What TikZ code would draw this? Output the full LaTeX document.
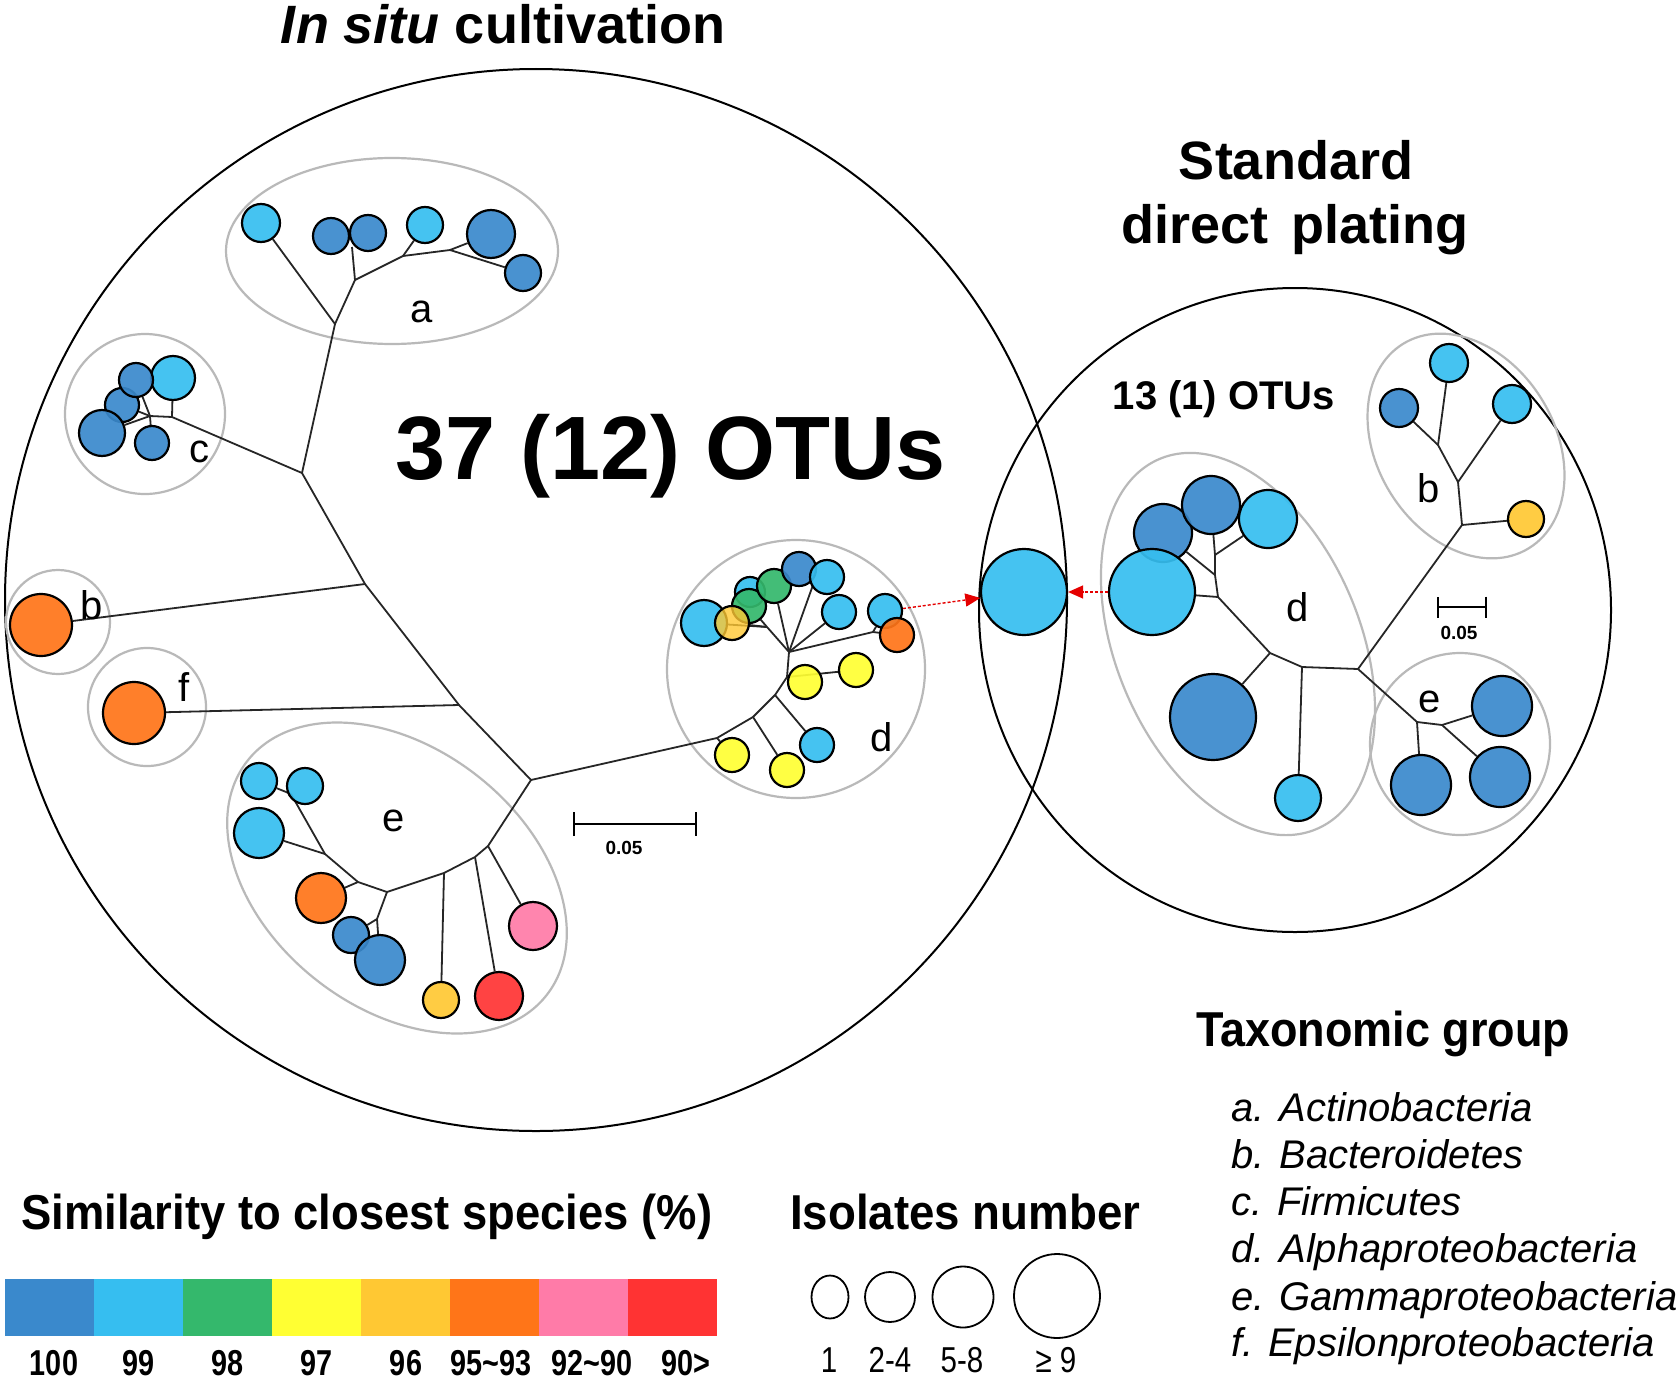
\documentclass[tikz,border=0pt]{standalone}
\usepackage{fontspec}
\setmainfont{Liberation Sans}
\usepackage{graphicx}
\usetikzlibrary{arrows.meta,shapes.geometric}
\pgfdeclarelayer{bg}
\pgfsetlayers{bg,main}
\definecolor{cA}{RGB}{58,137,204}
\definecolor{cB}{RGB}{54,190,240}
\definecolor{cC}{RGB}{52,184,108}
\definecolor{cD}{RGB}{255,255,51}
\definecolor{cE}{RGB}{255,200,51}
\definecolor{cF}{RGB}{255,117,24}
\definecolor{cG}{RGB}{255,123,168}
\definecolor{cH}{RGB}{255,51,51}
\definecolor{grp}{RGB}{185,185,185}
\tikzset{
 otu/.style={circle, draw=black, line width=2.2pt, inner sep=0pt, fill opacity=0.92},
 branch/.style={draw=black!85, line width=1.8pt},
 group/.style={draw=grp, line width=2.2pt},
 bigring/.style={draw=black, line width=2pt},
 lbl/.style={inner sep=0pt, font=\fontsize{40}{40}\selectfont},
 redarrow/.style={draw=red!90!black, line width=1.4pt, densely dashed, -{Triangle[length=15pt,width=13pt]}},
 sbar/.style={line width=2.4pt},
 title/.style={inner sep=0pt, anchor=base, font=\fontsize{54}{54}\selectfont\bfseries},
 head/.style={inner sep=0pt, anchor=base west, font=\fontsize{49}{49}\selectfont\bfseries},
 taxon/.style={inner sep=0pt, anchor=base west, font=\fontsize{40}{40}\selectfont\itshape},
 barlab/.style={inner sep=0pt, anchor=base, font=\fontsize{36}{36}\selectfont\bfseries},
 sizelab/.style={inner sep=0pt, anchor=base, font=\fontsize{36}{36}\selectfont},
 scalelab/.style={inner sep=0pt, font=\fontsize{19}{19}\selectfont\bfseries},
 sizering/.style={draw=black, ellipse, line width=1.8pt, inner sep=0pt},
}
\newcommand\otuc[4]{\node[otu, fill=#4, minimum size=#3pt] (#1) at (#2) {};}
\begin{document}
\begin{tikzpicture}[x=1pt,y=-1pt]
\useasboundingbox (0,0) rectangle (1678,1381);
\begin{pgfonlayer}{bg}
\fill[white] (0,0) rectangle (1678,1381);
\end{pgfonlayer}

% ---------- titles ----------
\node[title] (t1) at (503,44) {\textit{In situ} cultivation};
\node[title] (t2) at (1296,179) {Standard};
\node[title] (t3) at (1295,243) {direct\hspace{0.15em} plating};
\node[inner sep=0pt, anchor=base, font=\fontsize{90}{90}\selectfont\bfseries] (otuL) at (671,479) {37 (12) OTUs};
\node[inner sep=0pt, anchor=base, font=\fontsize{40}{40}\selectfont\bfseries] (otuR) at (1224,409) {13 (1) OTUs};

% ---------- junction coordinates ----------
\coordinate (M1) at (302,473);
\coordinate (M2) at (365,584);
\coordinate (M3) at (459,705);
\coordinate (M4) at (531,780);
\coordinate (Aroot) at (335,324);
\coordinate (Aj1) at (355,280);
\coordinate (Aj2) at (352,247);
\coordinate (Aj3) at (403,256);
\coordinate (Aj4) at (450,250);
\coordinate (cj) at (172,417);
\coordinate (cj2) at (150,416);
\coordinate (E1) at (488,846);
\coordinate (E2) at (475,857);
\coordinate (E3) at (444,873);
\coordinate (Eb) at (387,892);
\coordinate (Ec) at (358,882);
\coordinate (Ed) at (325,854);
\coordinate (Ee) at (291,794);
\coordinate (Ef) at (377,919);
\coordinate (Dp1) at (717,738);
\coordinate (Dp2) at (753,717);
\coordinate (Dp3) at (775,695);
\coordinate (Dp4) at (787,677);
\coordinate (DJ) at (789,652);
\coordinate (Ds1) at (767,627);
\coordinate (Ds3) at (813,585);
\coordinate (Ds5) at (873,632);
\coordinate (RJ) at (1358,669);
\coordinate (Rd0) at (1302,667);
\coordinate (Rdr) at (1270,653);
\coordinate (R1) at (1218,597);
\coordinate (R2) at (1215,575);
\coordinate (R3) at (1215,555);
\coordinate (Rb0) at (1462,525);
\coordinate (Rb1) at (1458,482);
\coordinate (Rb2) at (1438,445);
\coordinate (Re0) at (1417,722);
\coordinate (Re1) at (1442,725);

% ---------- OTU circles: left ----------
\otuc{a1}{261,223}{38}{cB}
\otuc{a2}{331,236}{36}{cA}
\otuc{a3}{368,233}{36}{cA}
\otuc{a4}{425,225}{36}{cB}
\otuc{a5}{491,234}{48}{cA}
\otuc{a6}{523,273}{36}{cA}
\otuc{c3}{122,405}{34}{cA}
\otuc{c1}{173,378}{44}{cB}
\otuc{c2}{136,380}{34}{cA}
\otuc{c4}{102,433}{46}{cA}
\otuc{c5}{152,443}{34}{cA}
\otuc{bL}{41,625}{62}{cF}
\otuc{fL}{134,713}{62}{cF}
\otuc{e1}{259,781}{36}{cB}
\otuc{e2}{305,786}{36}{cB}
\otuc{e3}{259,833}{50}{cB}
\otuc{e4}{321,898}{50}{cF}
\otuc{e5}{351,935}{36}{cA}
\otuc{e6}{380,960}{50}{cA}
\otuc{e7}{441,1000}{36}{cE}
\otuc{e8}{499,996}{48}{cH}
\otuc{e9}{533,926}{48}{cG}
\otuc{d1}{704,623}{46}{cB}
\otuc{d3}{750,592}{30}{cB}
\otuc{d4}{749,606}{34}{cC}
\otuc{d5}{774,586}{34}{cC}
\node[otu, fill=cE, fill opacity=0.8, minimum size=34pt] (d2) at (732,623) {};
\otuc{d6}{799,569}{34}{cA}
\otuc{d7}{827,577}{34}{cB}
\otuc{d8}{839,612}{34}{cB}
\otuc{d9}{885,611}{34}{cB}
\otuc{d10}{897,635}{34}{cF}
\otuc{d11}{856,670}{34}{cD}
\otuc{d12}{805,682}{34}{cD}
\otuc{d13}{817,745}{34}{cB}
\otuc{d14}{787,770}{34}{cD}
\otuc{d15}{732,755}{34}{cD}

% ---------- shared OTU ----------
\otuc{sh}{1024,592}{86}{cB}

% ---------- OTU circles: right ----------
\otuc{rd2}{1163,533}{58}{cA}
\otuc{rd3}{1211,505}{58}{cA}
\otuc{rd4}{1268,519}{58}{cB}
\otuc{rd1}{1152,592}{86}{cB}
\otuc{rd5}{1213,717}{86}{cA}
\otuc{rd6}{1298,798}{46}{cB}
\otuc{rb1}{1449,363}{38}{cB}
\otuc{rb2}{1399,408}{38}{cA}
\otuc{rb3}{1512,404}{38}{cB}
\otuc{rb4}{1526,519}{36}{cE}
\otuc{re1}{1502,706}{60}{cA}
\otuc{re2}{1500,777}{60}{cA}
\otuc{re3}{1421,785}{60}{cA}

% ---------- rings, groups, branches (background) ----------
\begin{pgfonlayer}{bg}
\draw[bigring] (536,600) circle [radius=531pt];
\draw[bigring] (1295,610) ellipse [x radius=316pt, y radius=322pt];
\draw[group] (392,251) ellipse [x radius=166pt, y radius=93pt];
\draw[group] (145,414) circle [radius=80pt];
\draw[group] (58,622) circle [radius=52pt];
\draw[group] (147,707) circle [radius=59pt];
\draw[group, rotate around={-38:(397,878)}] (397,878) ellipse [x radius=190pt, y radius=130pt];
\draw[group] (796,669) circle [radius=129pt];
\draw[group, rotate around={113:(1238,644)}] (1238,644) ellipse [x radius=201pt, y radius=122pt];
\draw[group, rotate around={121.6:(1466,446)}] (1466,446) ellipse [x radius=120pt, y radius=89pt];
\draw[group] (1460,744) ellipse [x radius=90pt, y radius=91pt];

% left tree
\draw[branch] (M1) -- (M2) -- (M3) -- (M4);
\draw[branch] (M1) -- (Aroot) -- (Aj1) -- (Aj2);
\draw[branch] (Aroot) -- (a1);
\draw[branch] (Aj1) -- (Aj3) -- (Aj4) -- (a6);
\draw[branch] (Aj3) -- (a4);
\draw[branch] (Aj4) -- (a5);
\draw[branch] (M1) -- (cj) -- (c1);
\draw[branch] (cj) -- (cj2);
\draw[branch] (cj2) -- (c2);
\draw[branch] (cj2) -- (c3);
\draw[branch] (cj2) -- (c4);
\draw[branch] (cj2) -- (c5);
\draw[branch] (M2) -- (bL);
\draw[branch] (M3) -- (fL);
\draw[branch] (M4) -- (E1) -- (E2) -- (E3) -- (Eb) -- (Ec) -- (Ed) -- (Ee);
\draw[branch] (E1) -- (e9);
\draw[branch] (E2) -- (e8);
\draw[branch] (E3) -- (e7);
\draw[branch] (Eb) -- (Ef);
\draw[branch] (Ef) -- (e5);
\draw[branch] (Ef) -- (e6);
\draw[branch] (Ec) -- (e4);
\draw[branch] (Ed) -- (e3);
\draw[branch] (Ee) -- (e1);
\draw[branch] (Ee) -- (e2);
\draw[branch] (M4) -- (Dp1) -- (Dp2) -- (Dp3) -- (Dp4) -- (DJ);
\draw[branch] (Dp1) -- (d15);
\draw[branch] (Dp2) -- (d14);
\draw[branch] (Dp3) -- (d13);
\draw[branch] (Dp4) -- (d12);
\draw[branch] (Dp4) -- (d11);
\draw[branch] (DJ) -- (Ds1);
\draw[branch] (Ds1) -- (d2);
\draw[branch] (Ds1) -- (d1);
\draw[branch] (Ds1) -- (d4);
\draw[branch] (DJ) -- (d5);
\draw[branch] (DJ) -- (Ds3);
\draw[branch] (Ds3) -- (d6);
\draw[branch] (Ds3) -- (d7);
\draw[branch] (DJ) -- (d8);
\draw[branch] (DJ) -- (Ds5);
\draw[branch] (Ds5) -- (d9);
\draw[branch] (Ds5) -- (d10);

% right tree
\draw[branch] (RJ) -- (Rd0) -- (Rdr) -- (R1) -- (R2) -- (R3) -- (rd3);
\draw[branch] (Rd0) -- (rd6);
\draw[branch] (Rdr) -- (rd5);
\draw[branch] (R1) -- (rd1);
\draw[branch] (R2) -- (rd2);
\draw[branch] (R3) -- (rd4);
\draw[branch] (RJ) -- (Rb0) -- (rb4);
\draw[branch] (Rb0) -- (Rb1) -- (rb3);
\draw[branch] (Rb1) -- (Rb2) -- (rb1);
\draw[branch] (Rb2) -- (rb2);
\draw[branch] (RJ) -- (Re0) -- (re3);
\draw[branch] (Re0) -- (Re1) -- (re1);
\draw[branch] (Re1) -- (re2);
\end{pgfonlayer}

% ---------- red arrows ----------
\draw[redarrow] (d9) -- (sh);
\draw[redarrow] (rd1) -- (sh);

% ---------- scale bars ----------
\coordinate (sL1) at (573,824);
\coordinate (sL2) at (697,824);
\draw[sbar, {Bar[width=24pt]}-{Bar[width=24pt]}] (sL1) -- (sL2);
\node[scalelab] (sLl) at (624,848) {0.05};
\coordinate (sR1) at (1437,607);
\coordinate (sR2) at (1487,607);
\draw[sbar, {Bar[width=21pt]}-{Bar[width=21pt]}] (sR1) -- (sR2);
\node[scalelab] (sRl) at (1459,633) {0.05};

% ---------- group labels ----------
\node[lbl] (la) at (422,312) {a};
\node[lbl] (lc) at (199,452) {c};
\node[lbl] (lb) at (92,605) {b};
\node[lbl] (lf) at (184,687) {f};
\node[lbl] (le) at (394,821) {e};
\node[lbl] (ld) at (882,737) {d};
\node[lbl] (rlb) at (1429,488) {b};
\node[lbl] (rld) at (1298,607) {d};
\node[lbl] (rle) at (1430,702) {e};

% ---------- legends ----------
\node[head] (h1) at (21,1229) {\resizebox{691pt}{\height}{Similarity to closest species (\%)}};
\node[head] (h2) at (790,1229) {\resizebox{350pt}{\height}{Isolates number}};
\node[head] (h3) at (1196,1046) {\resizebox{374pt}{\height}{Taxonomic group}};

\foreach \c [count=\i from 0] in {cA,cB,cC,cD,cE,cF,cG,cH}
  \fill[\c] ({5+89*\i},1279) rectangle ({94+89*\i},1336);

\node[barlab] (v1) at (54,1375) {\scalebox{0.8}[1]{100}};
\node[barlab] (v2) at (139,1375) {\scalebox{0.8}[1]{99}};
\node[barlab] (v3) at (228,1375) {\scalebox{0.8}[1]{98}};
\node[barlab] (v4) at (317,1375) {\scalebox{0.8}[1]{97}};
\node[barlab] (v5) at (406,1375) {\scalebox{0.8}[1]{96}};
\node[barlab] (v6) at (491,1375) {\scalebox{0.8}[1]{95\textasciitilde 93}};
\node[barlab] (v7) at (592,1375) {\scalebox{0.8}[1]{92\textasciitilde 90}};
\node[barlab] (v8) at (686,1375) {\scalebox{0.8}[1]{90>}};

\node[sizering, minimum width=37pt, minimum height=43pt] (s1) at (830,1297) {};
\node[sizering, minimum width=50pt, minimum height=50pt] (s2) at (890,1297) {};
\node[sizering, minimum width=61pt, minimum height=61pt] (s3) at (963,1297) {};
\node[sizering, minimum width=86pt, minimum height=84pt] (s4) at (1057,1296) {};
\node[sizelab] (n1) at (829,1372) {\scalebox{0.82}[1]{1}};
\node[sizelab] (n2) at (890,1372) {\scalebox{0.82}[1]{2-4}};
\node[sizelab] (n3) at (962,1372) {\scalebox{0.82}[1]{5-8}};
\node[sizelab] (n4) at (1056,1372) {\scalebox{0.82}[1]{≥ 9}};

\node[taxon] (g1) at (1231,1121) {a. Actinobacteria};
\node[taxon] (g2) at (1231,1168) {b. Bacteroidetes};
\node[taxon] (g3) at (1231,1215) {c. Firmicutes};
\node[taxon] (g4) at (1231,1262) {d. Alphaproteobacteria};
\node[taxon] (g5) at (1231,1310) {e. Gammaproteobacteria};
\node[taxon] (g6) at (1231,1356) {f. Epsilonproteobacteria};
\end{tikzpicture}
\end{document}
